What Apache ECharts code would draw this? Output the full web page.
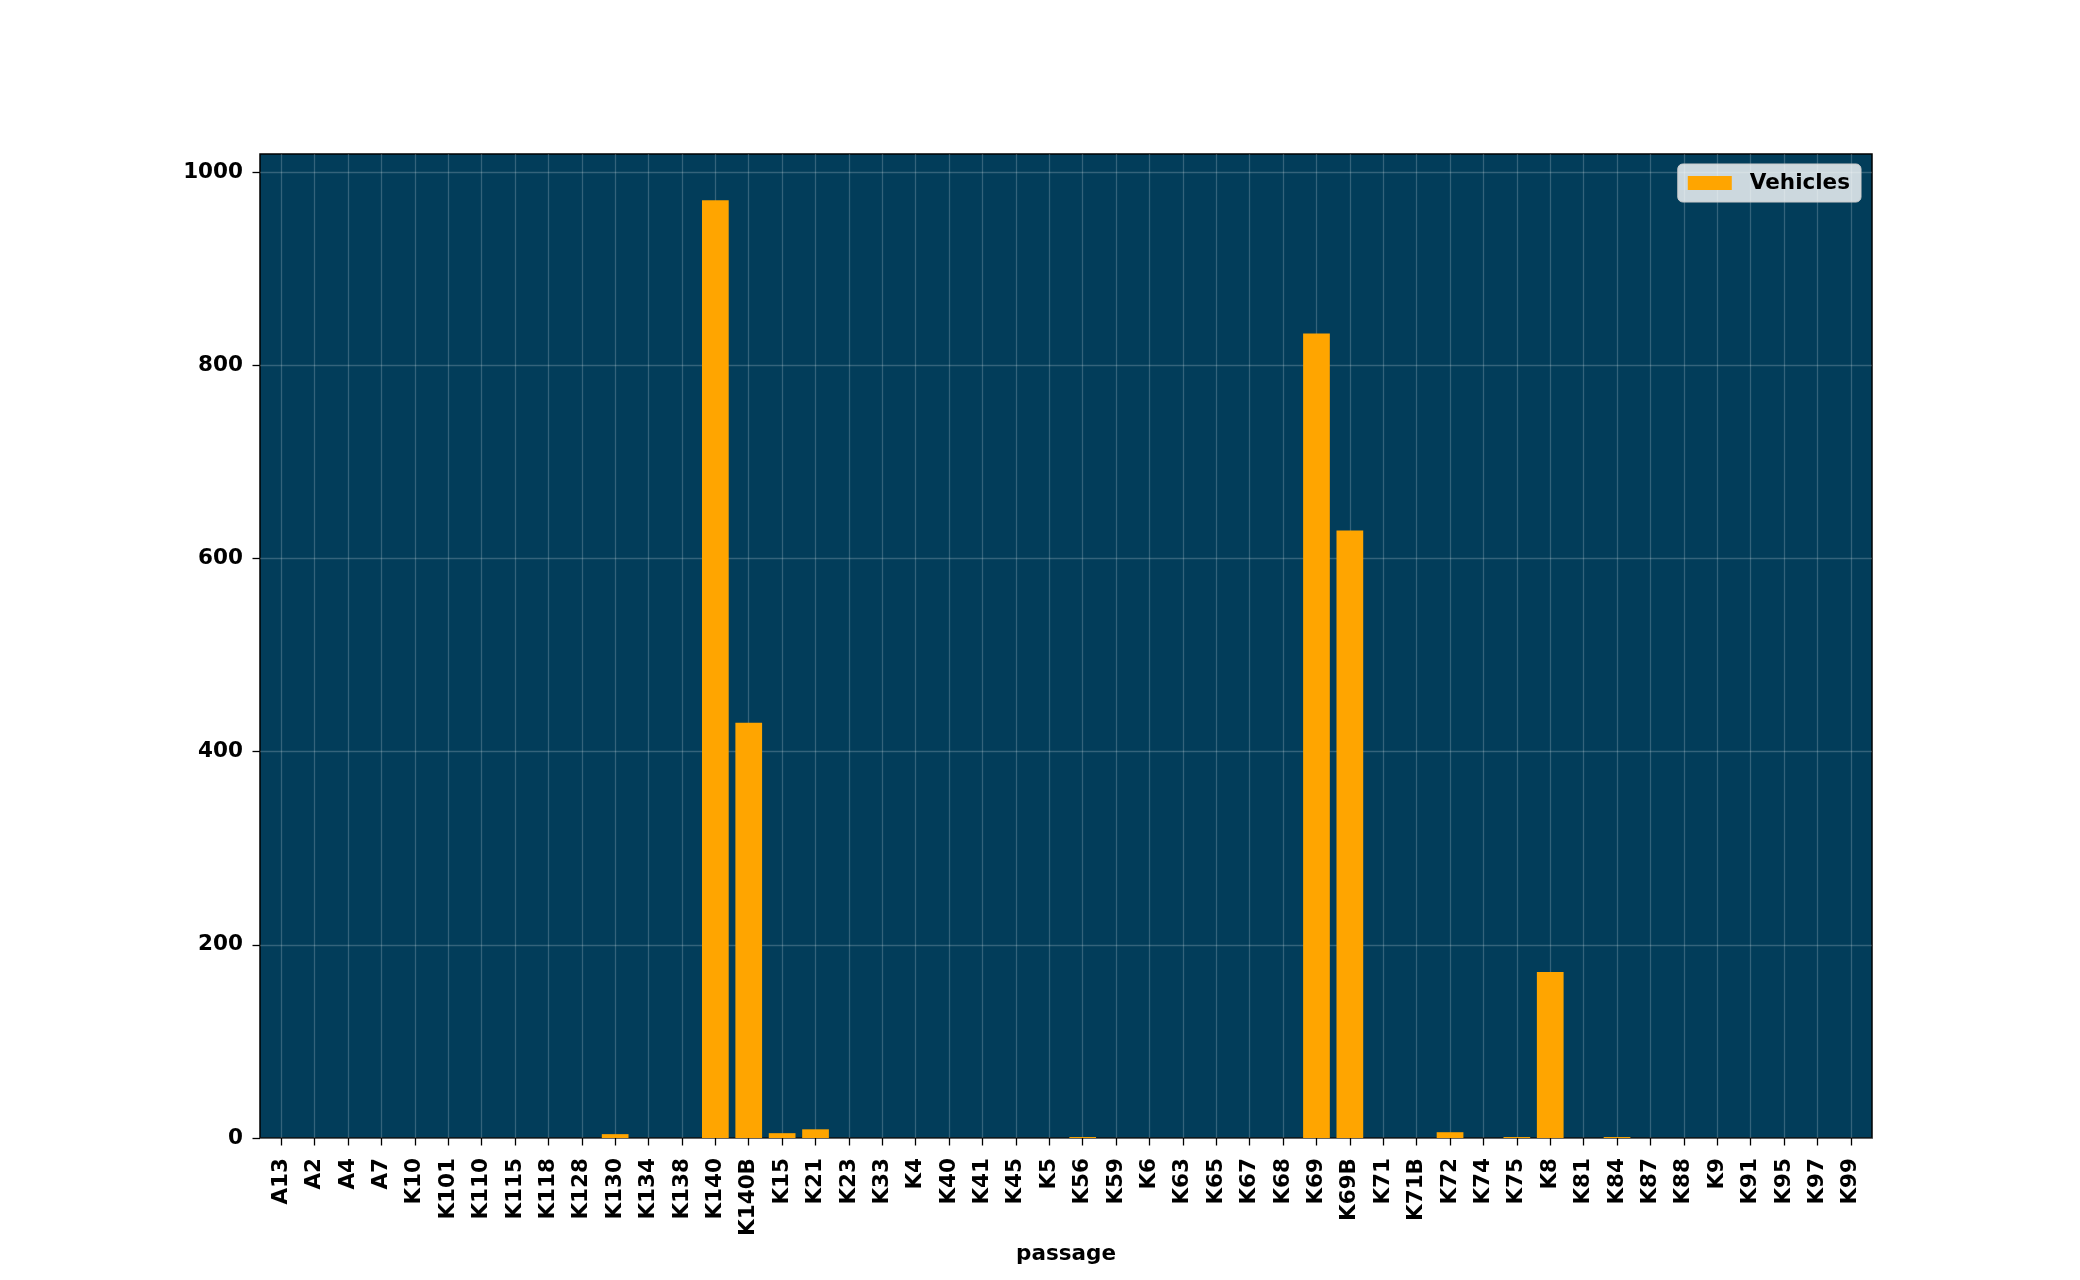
<!DOCTYPE html>
<html>
<head>
<meta charset="utf-8">
<script src="https://cdn.jsdelivr.net/npm/echarts@6/dist/echarts.min.js"></script>
<style>
html,body{margin:0;padding:0;background:#ffffff;}
#chart{width:2080px;height:1280px;}
</style>
</head>
<body>
<div id="chart"></div>
<script>
const categories = ['A13','A2','A4','A7','K10','K101','K110','K115','K118','K128','K130','K134','K138','K140','K140B','K15','K21','K23','K33','K4','K40','K41','K45','K5','K56','K59','K6','K63','K65','K67','K68','K69','K69B','K71','K71B','K72','K74','K75','K8','K81','K84','K87','K88','K9','K91','K95','K97','K99'];
const vehicles = [0,0,0,0,0,0,0,0,0,0,4,0,0,971,430,5,9,0,0,0,0,0,0,0,1,0,0,0,0,0,0,833,629,0,0,6,0,1,172,0,1,0,0,0,0,0,0,0];
const yTicks = [0,200,400,600,800,1000];
const yMax = 1019;
const seriesName = 'Vehicles';
const xName = 'passage';

const FONT = 'DejaVu Sans';
const FS = 21.5;
const frameLeft = 260, frameRight = 1872, frameTop = 154, frameBottom = 1138;
const n = categories.length;
const pad = 0.635;
const step = (frameRight - frameLeft) / (n - 1 + 2 * pad);
const dataLeft = frameLeft + pad * step;
const dataRight = frameRight - pad * step;
const gridLineColor = 'rgba(255,255,255,0.2)';

const chart = echarts.init(document.getElementById('chart'), null, {renderer: 'canvas'});
chart.setOption({
  animation: false,
  backgroundColor: '#ffffff',
  grid: [
    {left: frameLeft, right: 2080 - frameRight, top: frameTop, bottom: 1280 - frameBottom,
     show: true, backgroundColor: '#023d5a', borderColor: '#000000', borderWidth: 1.5, z: 0},
    {left: dataLeft, right: 2080 - dataRight, top: frameTop, bottom: 1280 - frameBottom, z: 1}
  ],
  legend: {
    data: [seriesName],
    right: 2080 - 1861,
    top: 164,
    backgroundColor: 'rgba(255,255,255,0.8)',
    borderColor: '#cccccc',
    borderWidth: 1,
    borderRadius: 5,
    padding: [8, 11, 8, 10],
    icon: 'rect',
    itemWidth: 44,
    itemHeight: 14,
    itemStyle: {borderWidth: 0},
    textStyle: {fontFamily: FONT, fontWeight: 'bold', fontSize: FS, color: '#000', padding: [0, 0, 0, 13]}
  },
  xAxis: [
    {type: 'category', gridIndex: 0, data: categories, show: false},
    {
      type: 'category', gridIndex: 1, data: categories, boundaryGap: false,
      name: xName, nameLocation: 'middle', nameGap: 103,
      nameTextStyle: {fontFamily: FONT, fontWeight: 'bold', fontSize: FS, color: '#000'},
      axisLine: {show: false},
      axisTick: {show: true, length: 7.5, interval: 0, lineStyle: {color: '#000', width: 1.3}},
      axisLabel: {interval: 0, rotate: 90, margin: 20, fontFamily: FONT, fontWeight: 'bold', fontSize: FS, color: '#000'},
      splitLine: {show: true, interval: 0, lineStyle: {color: gridLineColor, width: 1.3}}
    }
  ],
  yAxis: [
    {
      type: 'value', gridIndex: 0, min: 0, max: yMax,
      axisLine: {show: false},
      axisTick: {show: true, length: 7.5, customValues: yTicks, lineStyle: {color: '#000', width: 1.3}},
      axisLabel: {margin: 17, customValues: yTicks, formatter: v => String(v), fontFamily: FONT, fontWeight: 'bold', fontSize: FS, color: '#000'},
      splitLine: {show: true, lineStyle: {color: gridLineColor, width: 1.3}}
    },
    {type: 'value', gridIndex: 1, min: 0, max: yMax, show: false, splitLine: {show: false}}
  ],
  series: [{
    name: seriesName,
    type: 'bar',
    xAxisIndex: 1,
    yAxisIndex: 1,
    data: vehicles,
    barWidth: '80%',
    itemStyle: {color: '#ffa500', borderWidth: 0},
    z: 3
  }]
});
</script>
</body>
</html>
